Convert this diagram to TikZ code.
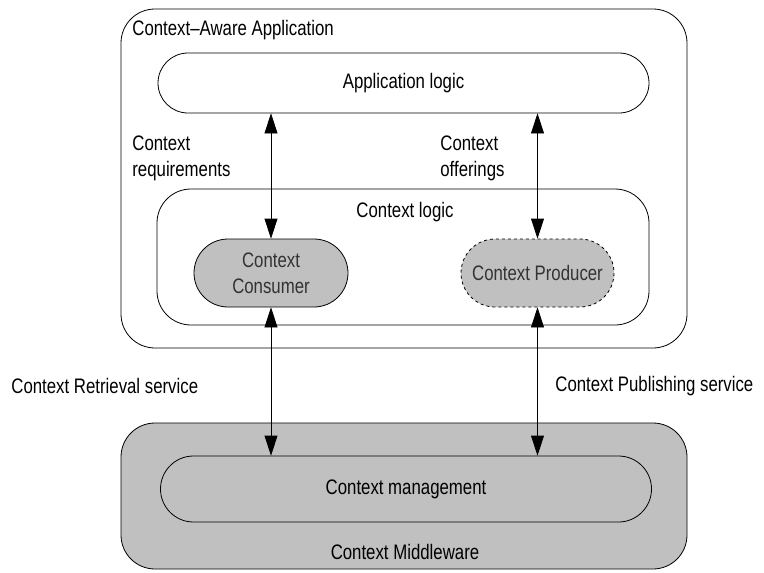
\documentclass[tikz,border=0pt]{standalone}
\usepackage{fontspec}
\setmainfont{Liberation Sans}[FakeStretch=0.8]
\usetikzlibrary{shapes.misc, arrows.meta}
\definecolor{ctxgray}{HTML}{C0C0C0}

\begin{document}
\begin{tikzpicture}[x=1pt, y=-1pt, line width=0.8pt, font=\fontsize{21}{26}\selectfont,
  frame/.style = {draw, rounded corners=34pt, inner sep=0pt},
  pill/.style = {draw, rounded rectangle, inner sep=0pt},
  lbl/.style = {anchor=west, align=left, inner sep=0pt},
  link/.style = {{Triangle[length=20pt,width=13pt]}-{Triangle[length=20pt,width=13pt]}}]
\useasboundingbox (0,0) rectangle (764,573);

% context-aware application
\node[frame, minimum width=566pt, minimum height=339pt] (app) at (404,178.5) {};
\node[lbl] (applbl) at (132,30) {Context--Aware Application};
\node[pill, minimum width=491pt, minimum height=60pt] (applogic) at (403.5,83) {Application logic};
\node[frame, minimum width=492pt, minimum height=136pt] (ctxlogic) at (403,257) {};
\node[inner sep=0pt] (ctxlbl) at (405,212) {Context logic};
\node[pill, fill=ctxgray, text=black!80, align=center, minimum width=154pt, minimum height=68pt] (consumer) at (271,273) {Context\\Consumer};
\node[pill, fill=ctxgray, text=black!80, dashed, minimum width=153pt, minimum height=68pt] (producer) at (537.5,273) {Context Producer};

% middleware
\node[frame, fill=ctxgray, minimum width=566pt, minimum height=146pt] (mw) at (404,496) {};
\node[pill, minimum width=491pt, minimum height=66pt] (mgmt) at (406,489) {Context management};
\node[inner sep=0pt] (mwlbl) at (405,552) {Context Middleware};

% labels
\node[lbl] (req) at (132,158.5) {Context\\requirements};
\node[lbl] (off) at (440,158.5) {Context\\offerings};
\node[lbl] (retr) at (11,386) {Context Retrieval service};
\node[lbl] (publ) at (555,386) {Context Publishing service};

% arrows
\draw[link] (consumer.north) -- (consumer.north |- applogic.south);
\draw[link] (producer.north) -- (producer.north |- applogic.south);
\draw[link] (consumer.south) -- (consumer.south |- mgmt.north);
\draw[link] (producer.south) -- (producer.south |- mgmt.north);
\end{tikzpicture}
\end{document}
